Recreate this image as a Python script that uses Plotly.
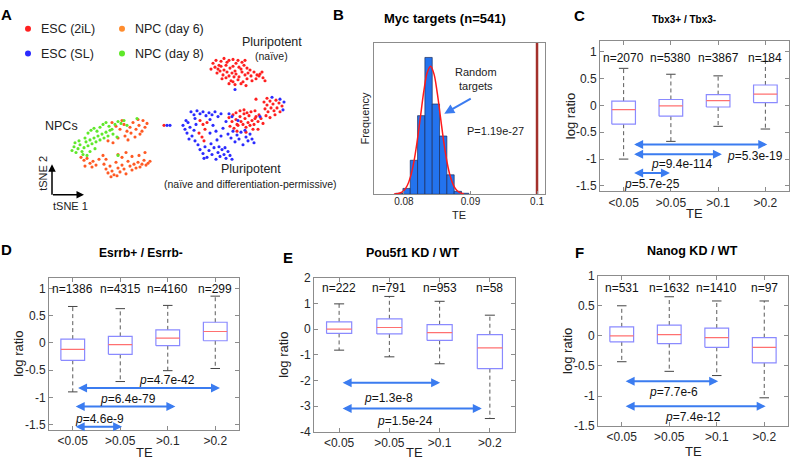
import plotly.graph_objects as go

W, H = 791, 468
FONT = "Liberation Sans, Arial, Helvetica, sans-serif"

# ---------------- Panel A: tSNE embedding ----------------
esc2il_x = [213, 216, 219, 221, 224, 227, 229, 233, 236, 238, 242, 245,
            215, 218, 221, 224, 226, 230, 233, 235, 239, 241, 244, 247, 250,
            217, 220, 223, 227, 229, 232, 236, 239, 242, 245, 248, 251, 254, 257, 260, 263,
            222, 226, 231, 234, 238, 243, 247, 252, 256, 259, 229, 235, 241, 246, 233, 262, 265, 211,
            229, 232, 233, 236, 237, 240, 241, 244, 245, 248, 249, 252, 254, 256, 258,
            230, 234, 238, 243, 246, 250, 253, 255, 236, 240, 244, 247, 251, 255, 259, 261,
            264, 267, 270, 273, 276, 279, 282, 265, 268, 271, 274, 277, 280, 266, 270, 275, 263, 258, 256, 267,
            200, 203, 205, 199, 202, 207, 204, 237, 246, 164]
esc2il_y = [58, 55, 60, 56, 53, 57, 55, 54, 58, 55, 57, 55,
            62, 64, 61, 65, 60, 63, 61, 66, 62, 64, 60, 63, 65,
            68, 66, 70, 67, 71, 68, 69, 72, 67, 70, 68, 71, 67, 70, 69, 73,
            74, 73, 76, 72, 75, 77, 74, 76, 74, 71, 79, 80, 79, 81, 77, 67, 76, 64,
            114, 118, 111, 116, 121, 113, 118, 110, 115, 119, 112, 117, 121, 113, 118,
            123, 125, 122, 121, 124, 122, 126, 115, 109, 107, 106, 109, 108, 107, 111, 115,
            98, 101, 97, 100, 96, 99, 102, 105, 108, 104, 107, 104, 108, 112, 114, 111, 120, 126, 95, 94,
            117, 121, 126, 130, 134, 119, 138, 128, 129, 122]

escsl_x = [191, 194, 197, 200, 203, 206, 209, 212, 215, 218, 195, 210, 221,
           183, 185, 188, 187, 190, 192, 194, 196, 189, 195, 198, 186,
           200, 203, 205, 207, 209, 212, 214, 216, 218, 220, 222, 224, 226, 228, 230, 232, 219, 211, 204, 225,
           228, 231, 233, 235, 237, 239, 241, 243, 246, 248, 250, 252, 254, 245,
           229, 232, 238, 226, 223, 213, 216, 221, 210, 217,
           272, 280, 284, 283, 260, 235, 167, 170]
escsl_y = [108, 111, 107, 110, 108, 112, 109, 111, 108, 113, 115, 116, 110,
           122, 126, 119, 130, 124, 133, 127, 121, 136, 138, 142, 117,
           147, 151, 144, 155, 148, 152, 145, 157, 150, 154, 147, 152, 156, 149, 153, 157, 144, 141, 156, 145,
           131, 135, 128, 139, 132, 136, 129, 142, 134, 138, 131, 136, 140, 127,
           110, 113, 117, 118, 125, 122, 128, 133, 130, 137,
           93, 95, 98, 106, 113, 85, 122, 122]

npc6_x = [112, 116, 120, 124, 127, 130, 133, 136, 139, 142, 145, 147, 140, 135, 131, 125, 118, 108, 113, 128, 143, 138, 122,
          81, 84, 87, 90, 93, 96, 85, 92, 99,
          104, 106, 108, 110, 112, 114, 116, 118, 120, 122, 124, 126, 128, 130, 132, 134, 136, 138, 140, 142, 144, 146, 148, 150,
          122, 118, 126, 132, 139, 145, 111, 117, 106, 103]
npc6_y = [119, 123, 126, 121, 128, 124, 119, 126, 122, 128, 124, 120, 131, 134, 130, 133, 135, 138, 140, 137, 117, 116, 117,
          155, 158, 156, 161, 159, 163, 164, 165, 157,
          162, 167, 171, 164, 169, 173, 160, 166, 170, 163, 167, 172, 159, 164, 168, 162, 166, 160, 165, 162, 158, 163, 161, 159,
          155, 152, 150, 154, 153, 150, 175, 174, 157, 153]

npc8_x = [72, 74, 76, 78, 80, 82, 84, 86, 88, 90, 92, 94, 96, 98, 100, 102, 104, 106, 108, 110,
          88, 91, 94, 97, 100, 103, 106, 109, 112, 115, 118, 121, 124,
          85, 79, 75, 83, 87, 113, 117, 137, 118, 127, 95, 90]
npc8_y = [148, 144, 150, 146, 142, 149, 145, 139, 143, 137, 141, 135, 139, 133, 137, 131, 135, 129, 133, 127,
          130, 127, 125, 128, 124, 121, 119, 123, 126, 121, 118, 120, 117,
          135, 138, 140, 152, 153, 131, 134, 115, 153, 122, 146, 149]

legend_labels = ["ESC (2iL)", "ESC (SL)", "NPC (day 6)", "NPC (day 8)"]

# ---------------- Panel B: histogram of random-target TE ----------------
b_bin_centers = [0.0793, 0.0804, 0.0815, 0.0826, 0.0837, 0.0848, 0.0859, 0.0870, 0.0881, 0.0892]
b_counts = [1, 6, 35, 81, 141, 93, 60, 20, 3, 1]
b_bin_width = 0.0011
b_fit_x = [0.0785, 0.0790, 0.0795, 0.0800, 0.0805, 0.0810, 0.0815, 0.0820, 0.0825, 0.0830, 0.0835,
           0.0840, 0.0845, 0.0850, 0.0855, 0.0860, 0.0865, 0.0870, 0.0875, 0.0880, 0.0885, 0.0890]
b_fit_y = [0.2, 0.5, 1.5, 3.9, 9.0, 18.4, 33.6, 55.2, 81.0, 106.7, 125.4,
           132.0, 124.3, 104.8, 79.0, 53.3, 32.2, 17.4, 8.4, 3.6, 1.4, 0.5]
b_myc_te = 0.1
b_xticks = [0.08, 0.09, 0.1]
b_xticktext = ["0.08", "0.09", "0.1"]

# ---------------- Panels C-F: box plots ----------------
te_categories = ["<0.05", ">0.05", ">0.1", ">0.2"]

c_n = [2070, 5380, 3867, 184]
c_lo = [-1.00, -0.67, -0.39, -0.44]
c_q1 = [-0.35, -0.20, -0.03, 0.05]
c_med = [-0.08, -0.01, 0.09, 0.21]
c_q3 = [0.08, 0.11, 0.20, 0.38]
c_hi = [0.69, 0.58, 0.55, 0.82]
c_p = ["5.3e-19", "9.4e-114", "5.7e-25"]

d_n = [1386, 4315, 4160, 299]
d_lo = [-0.90, -0.71, -0.51, -0.47]
d_q1 = [-0.32, -0.21, -0.05, 0.04]
d_med = [-0.12, -0.03, 0.09, 0.21]
d_q3 = [0.07, 0.12, 0.24, 0.38]
d_hi = [0.67, 0.63, 0.69, 0.86]
d_p = ["4.7e-42", "6.4e-79", "4.6e-9"]

e_n = [222, 791, 953, 58]
e_lo = [-0.82, -1.08, -1.35, -3.48]
e_q1 = [-0.17, -0.19, -0.44, -1.54]
e_med = [0.00, 0.06, -0.14, -0.73]
e_q3 = [0.28, 0.40, 0.17, -0.22]
e_hi = [0.98, 1.27, 1.08, 0.54]
e_p = ["1.3e-8", "1.5e-24"]

f_n = [531, 1632, 1410, 97]
f_lo = [-0.43, -0.59, -0.66, -1.03]
f_q1 = [-0.10, -0.13, -0.19, -0.45]
f_med = [0.00, 0.02, -0.03, -0.19]
f_q3 = [0.15, 0.18, 0.13, -0.03]
f_hi = [0.50, 0.65, 0.58, 0.58]
f_p = ["7.7e-6", "7.4e-12"]

# ---------------- styling / layout helpers ----------------
AX = "#8c8c8c"
TICKC = "#262626"
ARROW = "#3b7cf0"


def pp(x, y):
    return x / W, 1 - y / H


def ptxt(x, y, s, size=12, angle=0, xanchor="center", color="#000"):
    X, Y = pp(x, y)
    return dict(x=X, y=Y, xref="paper", yref="paper", text=s, showarrow=False,
                font=dict(size=size, family=FONT, color=color), xanchor=xanchor,
                yanchor="middle", textangle=angle)


fig = go.Figure()
annotations = []
layout = dict(width=W, height=H, margin=dict(l=0, r=0, t=0, b=0), autosize=False,
              paper_bgcolor="white", plot_bgcolor="white", showlegend=False,
              font=dict(family=FONT))

# ---- Panel A ----
layout["xaxis"] = dict(domain=[0, 290 / W], range=[0, 290], visible=False, anchor="y")
layout["yaxis"] = dict(domain=[1 - 230 / H, 1], range=[230, 0], visible=False, anchor="x")
groups = [(esc2il_x, esc2il_y, "#ff2020"), (escsl_x, escsl_y, "#2b2bff"),
          (npc6_x, npc6_y, "#ff5a24"), (npc8_x, npc8_y, "#5fe82a")]
for gx, gy, col in groups:
    fig.add_trace(go.Scatter(x=gx, y=gy, mode="markers", xaxis="x", yaxis="y",
                             marker=dict(size=3.1, color=col, line=dict(width=0))))
leg_pos = [(28, 22.5), (28, 48), (122, 22.5), (122, 48)]
leg_cols = ["#ff2020", "#2b2bff", "#ff8c2e", "#5fe82a"]
fig.add_trace(go.Scatter(x=[p[0] for p in leg_pos], y=[p[1] for p in leg_pos], mode="markers",
                         xaxis="x", yaxis="y", marker=dict(size=6, color=leg_cols)))
for (lx, ly), lab in zip(leg_pos, legend_labels):
    annotations.append(ptxt(lx + 11, ly, lab, size=12.5, xanchor="left", color="#222"))
annotations += [
    ptxt(6, 8, "<b>A</b>", size=15),
    ptxt(61, 123, "NPCs", size=12.5, color="#222"),
    ptxt(272, 36, "Pluripotent", size=12.5, color="#222"),
    ptxt(271, 50, "(naïve)", size=10.5, color="#222"),
    ptxt(251, 167, "Pluripotent", size=12.5, color="#222"),
    ptxt(250, 182, "(naïve and differentiation-permissive)", size=10.5, color="#222"),
    ptxt(43, 172, "tSNE 2", size=11, angle=-90, color="#222"),
    ptxt(70, 205, "tSNE 1", size=11, color="#222"),
]
hx, hy = pp(52, 162)
annotations.append(dict(x=hx, y=hy, xref="paper", yref="paper", ax=0, ay=32, text="",
                        showarrow=True, arrowhead=2, arrowsize=1, arrowwidth=1.5, arrowcolor="#000"))
hx, hy = pp(84, 193.5)
annotations.append(dict(x=hx, y=hy, xref="paper", yref="paper", ax=-32.5, ay=0, text="",
                        showarrow=True, arrowhead=2, arrowsize=1, arrowwidth=1.5, arrowcolor="#000"))

# ---- Panel B ----
bx0, bx1, by0, by1 = 374, 545, 37, 193
layout["xaxis2"] = dict(domain=[bx0 / W, bx1 / W], range=[0.0755, 0.1012], anchor="y2",
                        tickvals=b_xticks, ticktext=b_xticktext, ticks="inside", ticklen=3,
                        tickcolor=AX, showline=True, linecolor=AX, mirror=True, showgrid=False,
                        zeroline=False, ticklabelstandoff=-2,
                        tickfont=dict(size=10, color=TICKC, family=FONT))
layout["yaxis2"] = dict(domain=[1 - by1 / H, 1 - by0 / H], range=[0, 156], anchor="x2",
                        showticklabels=False, ticks="", showline=True, linecolor=AX, mirror=True,
                        showgrid=False, zeroline=False)
fig.add_trace(go.Bar(x=b_bin_centers, y=b_counts, width=b_bin_width, xaxis="x2", yaxis="y2",
                     marker=dict(color="#2373ee", line=dict(color="#1b2c5c", width=0.7))))
fig.add_trace(go.Scatter(x=b_fit_x, y=b_fit_y, mode="lines", xaxis="x2", yaxis="y2",
                         line=dict(color="#ff1a1a", width=1.5, shape="spline")))
fig.add_trace(go.Scatter(x=[b_myc_te, b_myc_te], y=[0, 156], mode="lines", xaxis="x2", yaxis="y2",
                         line=dict(color="#a3302b", width=2.5)))
annotations += [
    ptxt(338, 8, "<b>B</b>", size=15),
    ptxt(445, 12, "<b>Myc targets (n=541)</b>", size=13),
    ptxt(365, 115, "Frequency", size=11, angle=-90, color="#222"),
    ptxt(459, 214, "TE", size=11, color="#222"),
    dict(x=0.0938, y=65, xref="x2", yref="y2", text="P=1.19e-27", showarrow=False,
         font=dict(size=11, family=FONT, color="#222")),
    dict(x=0.0909, y=119, xref="x2", yref="y2", text="Random<br>targets", showarrow=False,
         font=dict(size=11, family=FONT, color="#222")),
    dict(x=0.08606, y=83, xref="x2", yref="y2", ax=28, ay=-16, text="", showarrow=True,
         arrowhead=2, arrowsize=1, arrowwidth=2, arrowcolor=ARROW),
]

# ---- Panels C-F ----
panels = [
    dict(k=3, dom=(600, 789, 35, 190), yr=[-1.6, 1.2], yt=[-1.5, -1, -0.5, 0, 0.5, 1],
         n=c_n, lo=c_lo, q1=c_q1, med=c_med, q3=c_q3, hi=c_hi, p=c_p, ny=0.88,
         arrows=[(1.19, 4.04, -0.727), (1.19, 3.08, -0.908), (1.19, 1.98, -1.257)],
         plab=[(3.78, -0.937), (2.23, -1.09), (1.59, -1.47)],
         title=("Tbx3+ / Tbx3-", 684, 13, 10), letter=("C", 579, 9), tey=213),
    dict(k=4, dom=(49, 239, 279, 436), yr=[-1.6, 1.2], yt=[-1.5, -1, -0.5, 0, 0.5, 1],
         n=d_n, lo=d_lo, q1=d_q1, med=d_med, q3=d_q3, hi=d_hi, p=d_p, ny=1.0,
         arrows=[(1.08, 4.1, -0.828), (1.03, 3.16, -1.167), (1.03, 2.04, -1.54)],
         plab=[(2.98, -0.69), (2.17, -1.03), (1.57, -1.39)],
         title=("Esrrb+ / Esrrb-", 141, 254, 12), letter=("D", 6, 250), tey=459),
    dict(k=5, dom=(314, 515, 279, 438), yr=[-4, 2], yt=[-4, -3, -2, -1, 0, 1, 2],
         n=e_n, lo=e_lo, q1=e_q1, med=e_med, q3=e_q3, hi=e_hi, p=e_p, ny=1.58,
         arrows=[(1.04, 3.01, -2.09), (1.04, 3.84, -3.09)],
         plab=[(1.98, -2.67), (2.31, -3.57)],
         title=("Pou5f1 KD / WT", 412, 254, 12.5), letter=("E", 288, 258), tey=459),
    dict(k=6, dom=(598, 788, 277, 432), yr=[-1.5, 1], yt=[-1.5, -1, -0.5, 0, 0.5, 1],
         n=f_n, lo=f_lo, q1=f_q1, med=f_med, q3=f_q3, hi=f_hi, p=f_p, ny=0.79,
         arrows=[(1.05, 3.03, -0.753), (1.05, 4.03, -1.17)],
         plab=[(2.09, -0.93), (2.51, -1.35)],
         title=("Nanog KD / WT", 692, 252, 12.5), letter=("F", 579, 253), tey=458),
]


def fmt_tick(v):
    return "%g" % v


for P in panels:
    k = P["k"]
    x0, x1, y0, y1 = P["dom"]
    xa, ya = "x%d" % k, "y%d" % k
    layout["xaxis%d" % k] = dict(domain=[x0 / W, x1 / W], range=[0.5, 4.5], anchor=ya,
                                 tickvals=[1, 2, 3, 4], ticktext=te_categories, ticks="inside",
                                 ticklen=4, tickcolor=AX, showline=True, linecolor=AX, linewidth=1,
                                 mirror="ticks", showgrid=False, zeroline=False,
                                 tickfont=dict(size=12, color=TICKC, family=FONT))
    layout["yaxis%d" % k] = dict(domain=[1 - y1 / H, 1 - y0 / H], range=P["yr"], anchor=xa,
                                 tickvals=P["yt"], ticktext=[fmt_tick(v) for v in P["yt"]],
                                 ticks="inside", ticklen=4, tickcolor=AX, showline=True,
                                 linecolor=AX, linewidth=1, mirror="ticks", showgrid=False,
                                 zeroline=False, tickfont=dict(size=12, color=TICKC, family=FONT))
    wx, wy, cx, cy, bxs, bys, mx, my = [], [], [], [], [], [], [], []
    for i in range(4):
        c = i + 1
        wx += [c, c, None, c, c, None]
        wy += [P["q3"][i], P["hi"][i], None, P["q1"][i], P["lo"][i], None]
        cx += [c - 0.1, c + 0.1, None, c - 0.1, c + 0.1, None]
        cy += [P["hi"][i], P["hi"][i], None, P["lo"][i], P["lo"][i], None]
        bxs += [c - 0.25, c + 0.25, c + 0.25, c - 0.25, c - 0.25, None]
        bys += [P["q1"][i], P["q1"][i], P["q3"][i], P["q3"][i], P["q1"][i], None]
        mx += [c - 0.25, c + 0.25, None]
        my += [P["med"][i], P["med"][i], None]
    fig.add_trace(go.Scatter(x=wx, y=wy, mode="lines", xaxis=xa, yaxis=ya,
                             line=dict(color="#5a5a5a", width=1, dash="4px,3px")))
    fig.add_trace(go.Scatter(x=cx, y=cy, mode="lines", xaxis=xa, yaxis=ya,
                             line=dict(color="#444444", width=1)))
    fig.add_trace(go.Scatter(x=bxs, y=bys, mode="lines", xaxis=xa, yaxis=ya,
                             line=dict(color="#8a8aff", width=1.2)))
    fig.add_trace(go.Scatter(x=mx, y=my, mode="lines", xaxis=xa, yaxis=ya,
                             line=dict(color="#ff7070", width=1.2)))
    for i, nv in enumerate(P["n"]):
        annotations.append(dict(x=i + 1, y=P["ny"], xref=xa, yref=ya, text="n=%d" % nv,
                                showarrow=False, font=dict(size=12, family=FONT, color="#111")))
    for (ax0, ax1, ay), (lx, ly), pv in zip(P["arrows"], P["plab"], P["p"]):
        annotations.append(dict(x=ax1, y=ay, ax=ax0, ay=ay, xref=xa, yref=ya, axref=xa, ayref=ya,
                                text="", showarrow=True, arrowhead=2, arrowside="end+start",
                                arrowsize=0.9, arrowwidth=2, arrowcolor=ARROW,
                                standoff=0, startstandoff=0))
        annotations.append(dict(x=lx, y=ly, xref=xa, yref=ya, text="<i>p</i>=" + pv,
                                showarrow=False, font=dict(size=12, family=FONT, color="#111")))
    t, tx, ty, ts = P["title"]
    annotations.append(ptxt(tx, ty, "<b>%s</b>" % t, size=ts))
    L, lx, ly = P["letter"]
    annotations.append(ptxt(lx, ly, "<b>%s</b>" % L, size=15))
    annotations.append(ptxt(x0 - 30, (y0 + y1) / 2, "log ratio", size=13, angle=-90, color="#222"))
    annotations.append(ptxt((x0 + x1) / 2, P["tey"], "TE", size=13, color="#222"))

layout["annotations"] = annotations
fig.update_layout(**layout)
fig.write_html("out.html", config={"displayModeBar": False},
               post_script="document.body.style.margin='0';document.body.style.overflow='hidden';")
